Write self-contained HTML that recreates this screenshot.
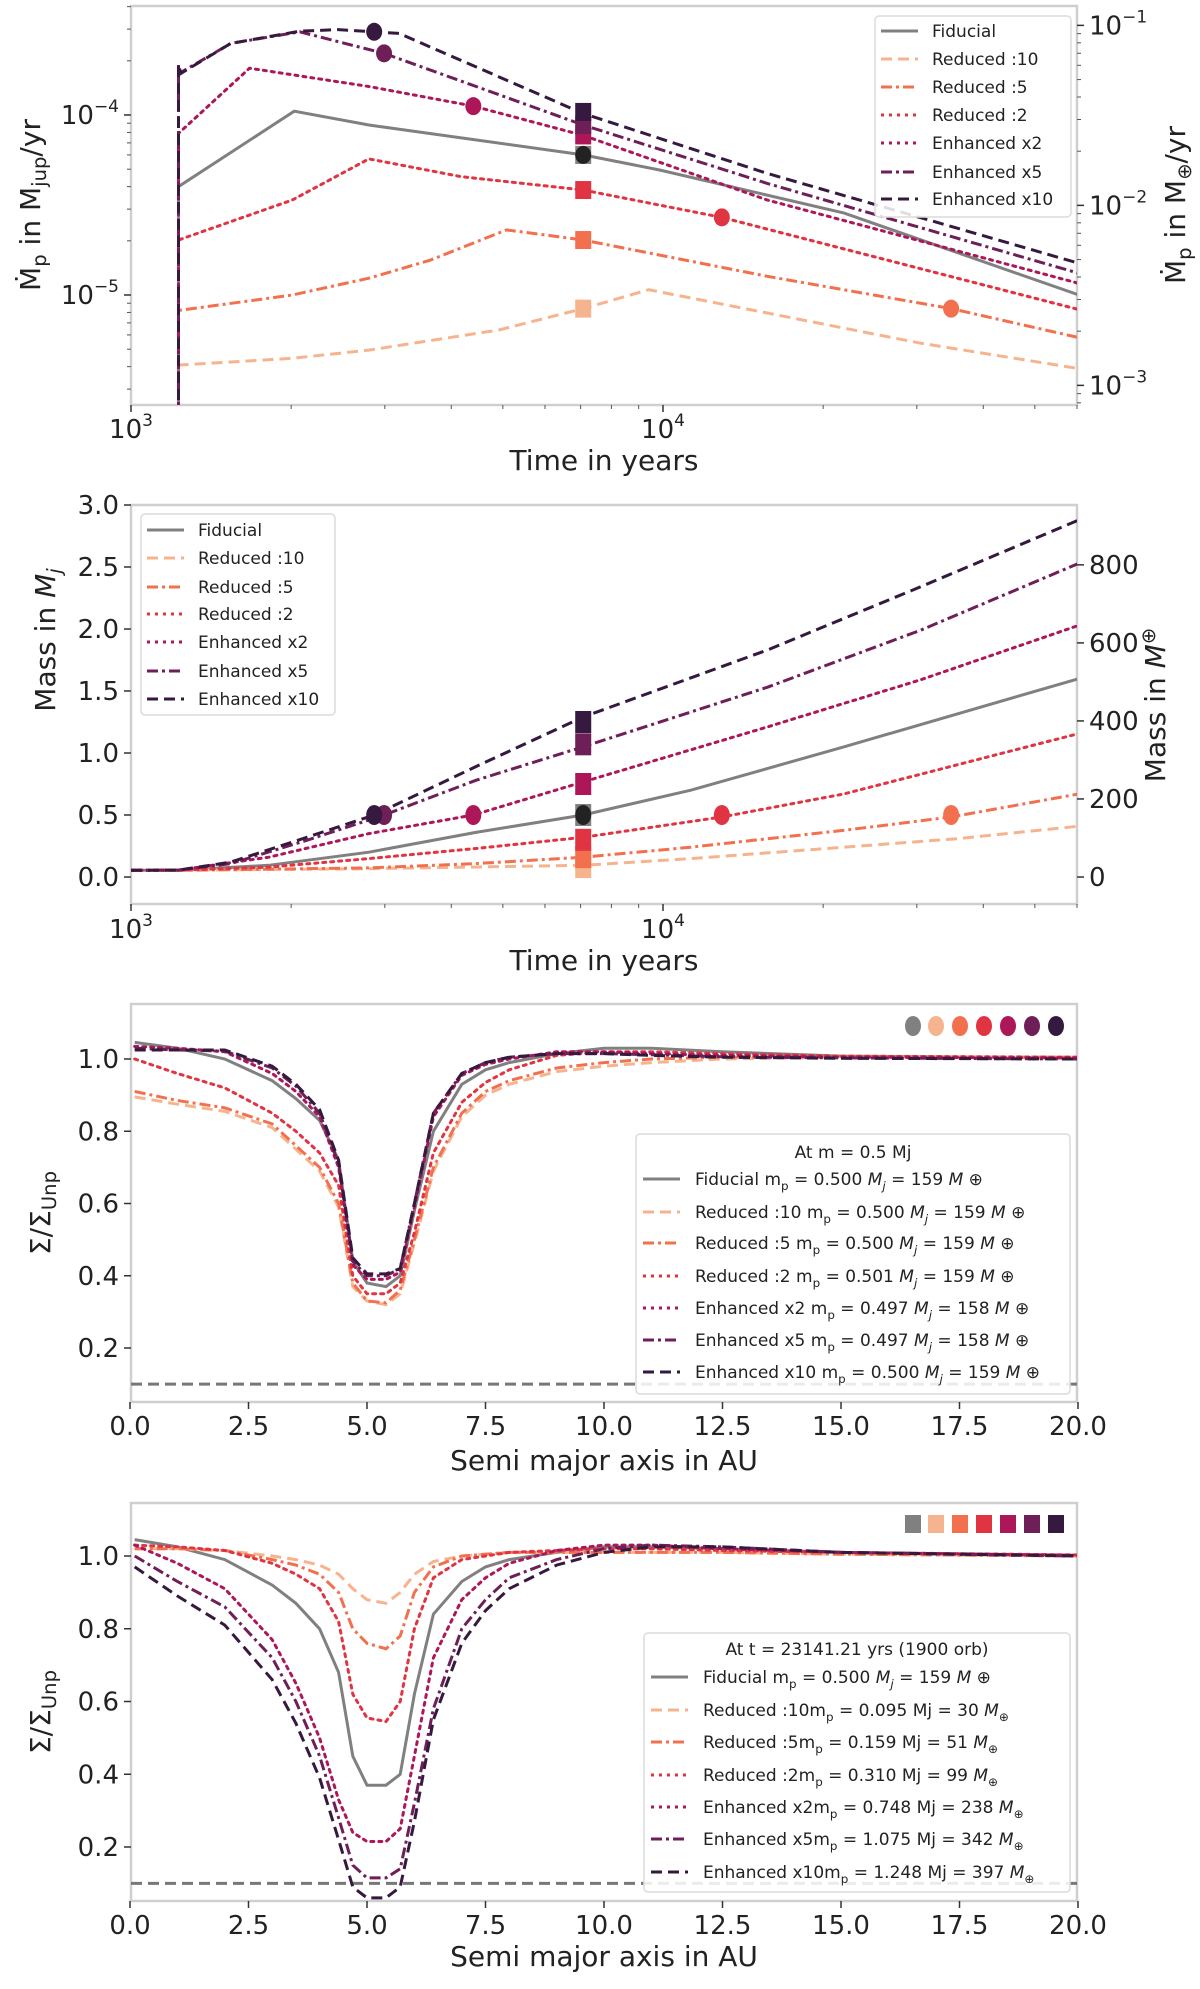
<!DOCTYPE html>
<html><head><meta charset="utf-8"><style>
html,body{margin:0;padding:0;background:#fff;}
svg text{font-family:"DejaVu Sans","Liberation Sans",sans-serif;fill:#222;}
</style></head><body>
<svg id="fig" xmlns="http://www.w3.org/2000/svg" width="1200" height="1984" viewBox="0 0 1200 1984"></svg>
<script>
// ---------- shared ----------
const seriesNames = ["Fiducial","Reduced :10","Reduced :5","Reduced :2","Enhanced x2","Enhanced x5","Enhanced x10"];
const seriesColors = ["#808080","#f6b48e","#f2704d","#e13443","#ad1759","#6f1f57","#35193e"];
const seriesDash = ["","11,6","11,4,3,4","3,5","3,5","11,4,3,4","11,6"];

// ---------- panel 1: accretion rate ----------
const p1Times = [
 [1228,2027,2800,7080,9860,21900,60500],
 [1228,2010,2800,4920,7080,9400,13700,30500,60500],
 [1228,2010,2800,3650,5080,7080,15700,34800,60500],
 [1228,2010,2800,4170,7080,12900,60500],
 [1228,1670,2800,4400,7080,15700,60500],
 [1228,1240,1540,2075,2990,7080,15700,60500],
 [1228,1240,1540,2075,2450,3190,7080,15700,60500]
];
const p1Rates = [
 [4.0e-5,1.05e-4,8.8e-5,6.0e-5,4.95e-5,2.85e-5,1.0e-5],
 [4.08e-6,4.45e-6,4.94e-6,6.4e-6,8.4e-6,1.07e-5,8.6e-6,5.4e-6,3.9e-6],
 [8.2e-6,1.0e-5,1.24e-5,1.56e-5,2.3e-5,2.02e-5,1.27e-5,8.4e-6,5.8e-6],
 [2.02e-5,3.37e-5,5.7e-5,4.55e-5,3.83e-5,2.7e-5,8.3e-6],
 [7.9e-5,1.82e-4,1.44e-4,1.12e-4,7.7e-5,3.37e-5,1.16e-5],
 [1.9e-4,1.72e-4,2.5e-4,2.9e-4,2.2e-4,8.8e-5,4.17e-5,1.32e-5],
 [1.9e-4,1.7e-4,2.5e-4,2.92e-4,2.98e-4,2.84e-4,1.02e-4,4.74e-5,1.5e-5]
];
const p1CircleT = [7080,null,34800,12900,4400,2990,2865];
const p1CircleV = [6.0e-5,null,8.4e-6,2.7e-5,1.12e-4,2.2e-4,2.9e-4];
const p1SquareT = 7080;
const p1SquareV = [6.0e-5,8.4e-6,2.02e-5,3.83e-5,7.7e-5,8.8e-5,1.04e-4];
const p1YTicks = [-5,-4];
const p1RightTicks = [-3,-2,-1];
const timeTicks = [3,4];

// ---------- panel 2: mass ----------
const p2Times = [
 [1000,1228,1816,2800,4450,7080,11280,21900,60500],
 [1000,1228,2800,7080,11280,21900,35900,60500],
 [1000,1228,2800,4450,7080,11280,21900,34800,60500],
 [1000,1228,1816,2800,4450,7080,12900,21900,60500],
 [1000,1228,1816,2800,4400,7080,15700,30500,60500],
 [1000,1228,1540,2140,2990,4450,7080,15700,30500,60500],
 [1000,1228,1540,2140,2865,4450,7080,15700,30500,60500]
];
const p2Mass = [
 [0.054,0.054,0.094,0.20,0.36,0.50,0.70,1.05,1.60],
 [0.054,0.054,0.067,0.094,0.148,0.24,0.31,0.41],
 [0.054,0.054,0.073,0.108,0.16,0.24,0.377,0.484,0.67],
 [0.054,0.054,0.08,0.148,0.23,0.32,0.484,0.67,1.157],
 [0.054,0.056,0.16,0.35,0.50,0.767,1.21,1.59,2.03],
 [0.054,0.056,0.108,0.296,0.50,0.78,1.05,1.53,1.99,2.53],
 [0.054,0.056,0.12,0.32,0.50,0.89,1.29,1.83,2.34,2.88]
];
const p2CircleT = [7080,null,34800,12900,4400,2990,2865];
const p2CircleV = [0.5,null,0.5,0.5,0.5,0.5,0.5];
const p2SquareV = [0.5,0.08,0.16,0.30,0.75,1.07,1.25];
const p2YTicks = [0,0.5,1.0,1.5,2.0,2.5,3.0];
const p2YTickLabels = ["0.0","0.5","1.0","1.5","2.0","2.5","3.0"];
const p2RightTicks = [0,200,400,600,800];

// ---------- panels 3/4: surface density ----------
const radii = [0.1,1,2,3,3.5,4,4.4,4.7,5.0,5.4,5.7,6.0,6.4,7,7.5,8,9,10,11,12.5,15,20];
const p3Sigma = [
 [1.046,1.03,1.0,0.94,0.89,0.83,0.72,0.44,0.38,0.37,0.40,0.58,0.80,0.93,0.97,0.99,1.015,1.03,1.03,1.02,1.008,1.003],
 [0.895,0.875,0.855,0.81,0.75,0.69,0.59,0.37,0.33,0.32,0.35,0.49,0.69,0.84,0.90,0.93,0.965,0.98,0.99,1.0,1.005,1.005],
 [0.91,0.885,0.865,0.82,0.76,0.70,0.60,0.38,0.33,0.325,0.36,0.50,0.70,0.85,0.91,0.94,0.975,0.99,1.0,1.005,1.006,1.005],
 [1.0,0.96,0.92,0.85,0.80,0.74,0.65,0.40,0.35,0.35,0.38,0.52,0.74,0.88,0.935,0.97,1.01,1.02,1.02,1.015,1.008,1.005],
 [1.035,1.03,1.02,0.96,0.91,0.84,0.70,0.43,0.39,0.39,0.41,0.59,0.84,0.955,0.985,1.0,1.02,1.02,1.015,1.01,1.005,1.003],
 [1.03,1.025,1.022,0.975,0.925,0.85,0.71,0.44,0.40,0.40,0.42,0.60,0.85,0.96,0.99,1.005,1.015,1.015,1.012,1.006,1.003,1.0],
 [1.025,1.025,1.025,0.98,0.93,0.86,0.72,0.45,0.405,0.405,0.42,0.60,0.85,0.96,0.99,1.005,1.015,1.015,1.01,1.005,1.002,1.0]
];
const p4Sigma = [
 [1.045,1.025,0.99,0.92,0.87,0.80,0.68,0.45,0.37,0.37,0.40,0.62,0.84,0.93,0.97,0.99,1.01,1.025,1.025,1.02,1.01,1.0],
 [1.02,1.02,1.015,1.0,0.99,0.975,0.95,0.91,0.88,0.87,0.90,0.95,0.985,1.0,1.005,1.01,1.01,1.01,1.01,1.01,1.005,1.0],
 [1.02,1.02,1.015,0.99,0.975,0.95,0.90,0.80,0.76,0.745,0.78,0.90,0.97,1.0,1.005,1.01,1.01,1.01,1.01,1.01,1.005,1.0],
 [1.03,1.025,1.015,0.98,0.95,0.91,0.82,0.62,0.555,0.545,0.60,0.80,0.94,0.99,1.0,1.01,1.015,1.02,1.02,1.015,1.01,1.003],
 [1.03,0.98,0.91,0.77,0.65,0.50,0.33,0.24,0.215,0.215,0.25,0.45,0.72,0.88,0.94,0.98,1.015,1.03,1.03,1.02,1.01,1.002],
 [1.0,0.93,0.86,0.72,0.60,0.45,0.28,0.15,0.115,0.115,0.14,0.32,0.58,0.80,0.88,0.94,0.99,1.02,1.03,1.025,1.01,1.0],
 [0.97,0.89,0.81,0.66,0.54,0.39,0.22,0.09,0.06,0.06,0.09,0.27,0.55,0.76,0.85,0.91,0.975,1.01,1.025,1.025,1.01,1.0]
];
const sigmaTicks = [0.2,0.4,0.6,0.8,1.0];
const sigmaTickLabels = ["0.2","0.4","0.6","0.8","1.0"];
const aTicks = [0,2.5,5,7.5,10,12.5,15,17.5,20];
const aTickLabels = ["0.0","2.5","5.0","7.5","10.0","12.5","15.0","17.5","20.0"];
const thresholdLevel = 0.1;
const p3Legend = ["Fiducial m<sub>p</sub> = 0.500 <i>M<sub>j</sub></i> = 159 <i>M</i> ⊕",
 "Reduced :10 m<sub>p</sub> = 0.500 <i>M<sub>j</sub></i> = 159 <i>M</i> ⊕",
 "Reduced :5 m<sub>p</sub> = 0.500 <i>M<sub>j</sub></i> = 159 <i>M</i> ⊕",
 "Reduced :2 m<sub>p</sub> = 0.501 <i>M<sub>j</sub></i> = 159 <i>M</i> ⊕",
 "Enhanced x2 m<sub>p</sub> = 0.497 <i>M<sub>j</sub></i> = 158 <i>M</i> ⊕",
 "Enhanced x5 m<sub>p</sub> = 0.497 <i>M<sub>j</sub></i> = 158 <i>M</i> ⊕",
 "Enhanced x10 m<sub>p</sub> = 0.500 <i>M<sub>j</sub></i> = 159 <i>M</i> ⊕"];
const p4Legend = ["Fiducial m<sub>p</sub> = 0.500 <i>M<sub>j</sub></i> = 159 <i>M</i> ⊕",
 "Reduced :10m<sub>p</sub> = 0.095 Mj = 30 <i>M</i><sub>⊕</sub>",
 "Reduced :5m<sub>p</sub> = 0.159 Mj = 51 <i>M</i><sub>⊕</sub>",
 "Reduced :2m<sub>p</sub> = 0.310 Mj = 99 <i>M</i><sub>⊕</sub>",
 "Enhanced x2m<sub>p</sub> = 0.748 Mj = 238 <i>M</i><sub>⊕</sub>",
 "Enhanced x5m<sub>p</sub> = 1.075 Mj = 342 <i>M</i><sub>⊕</sub>",
 "Enhanced x10m<sub>p</sub> = 1.248 Mj = 397 <i>M</i><sub>⊕</sub>"];

// ---------- drawing ----------
const NS="http://www.w3.org/2000/svg";
const svg=document.getElementById('fig');
function mk(tag,attrs,parent){const e=document.createElementNS(NS,tag);for(const k in attrs)e.setAttribute(k,attrs[k]);(parent||svg).appendChild(e);return e;}
function txt(x,y,html,size,anchor,parent,extra){const t=mk('text',Object.assign({x:x,y:y,'font-size':size,'text-anchor':anchor||'start'},extra||{}),parent);t.innerHTML=html;return t;}
const L=131,R=1077;
const logX=t=>L+532*(Math.log10(t)-3);
const linX=a=>130+47.4*a;

function frame(top,bottom,id){
  const g=mk('g',{});
  
  
  const r=mk('rect',{x:L,y:top,width:R-L,height:bottom-top,fill:'none',stroke:'#cfcfcf','stroke-width':2.5},g);
  
  
  const cp=mk('clipPath',{id:'clip-'+id},g);
  mk('rect',{x:L,y:top,width:R-L,height:bottom-top},cp);
  return g;
}
function sub(s){return s.replace(/<sub>/g,'<tspan font-size="0.7em" dy="5">').replace(/<\/sub>/g,'</tspan><tspan dy="-5"> </tspan>').replace(/<i>/g,'<tspan font-style="italic">').replace(/<\/i>/g,'</tspan>');}

function lineSeries(g,xs,ys,i,clipId,fx,fy,name){
  const d=xs.map((x,k)=>(k?'L':'M')+fx(x).toFixed(1)+','+fy(ys[k]).toFixed(1)).join(' ');
  const p=mk('path',{d:d,fill:'none',stroke:seriesColors[i],'stroke-width':3,'stroke-dasharray':seriesDash[i],'stroke-linecap':seriesDash[i]==='3,5'?'round':'butt','clip-path':'url(#clip-'+clipId+')'},g);
  
  
  return p;
}
function legendBox(g,x,y,w,h,ys,labels,hx,tx,fs,title,titleY){
  const lg=mk('g',{},g);
  
  
  mk('rect',{x:x,y:y,width:w,height:h,rx:4,fill:'#fff','fill-opacity':0.85,stroke:'#dcdcdc','stroke-width':1.5},lg);
  if(title){const tt=txt(x+w/2,titleY,title,fs,'middle',lg);}
  labels.forEach((lab,i)=>{
    const e=mk('g',{},lg);
    
    
    mk('line',{x1:hx,x2:hx+37,y1:ys[i],y2:ys[i],stroke:seriesColors[i],'stroke-width':3,'stroke-dasharray':seriesDash[i]},e);
    txt(tx,ys[i]+6,sub(lab),fs,'start',e);
  });
}
function logXAxis(g,bottom,labY,xlabY){
  timeTicks.forEach(p=>{const x=logX(Math.pow(10,p));mk('line',{x1:x,x2:x,y1:bottom,y2:bottom+7,stroke:'#333','stroke-width':1.5},g);
    const t=txt(x,labY,'10<tspan font-size="17" dy="-12">'+p+'</tspan>',26,'middle',g);});
  for(let d=3;d<=4;d++)for(let m=2;m<=9;m++){const v=m*Math.pow(10,d);if(logX(v)>R)break;const x=logX(v);mk('line',{x1:x,x2:x,y1:bottom,y2:bottom+4,stroke:'#555','stroke-width':1},g);}
  const xl=txt(604,xlabY,'Time in years',28,'middle',g);
  
  
}

// Panel 1
(function(){
  const top=6,bottom=405;
  const fy=v=>115-180*(Math.log10(v)+4);
  const g=frame(top,bottom,'p1');
  p1YTicks.forEach(p=>{const y=fy(Math.pow(10,p));mk('line',{x1:L-7,x2:L,y1:y,y2:y,stroke:'#333','stroke-width':1.5},g);
    const t=txt(L-12,y+9,'10<tspan font-size="17" dy="-12">−'+(-p)+'</tspan>',26,'end',g);});
  for(let d=-6;d<=-4;d++)for(let m=2;m<=9;m++){const y=fy(m*Math.pow(10,d));if(y<top||y>bottom)continue;mk('line',{x1:L-4,x2:L,y1:y,y2:y,stroke:'#555','stroke-width':1},g);}
  const fr=v=>fy(v/317.8);
  p1RightTicks.forEach(p=>{const y=fr(Math.pow(10,p));mk('line',{x1:R,x2:R+7,y1:y,y2:y,stroke:'#333','stroke-width':1.5},g);
    const t=txt(R+12,y+9,'10<tspan font-size="17" dy="-12">−'+(-p)+'</tspan>',26,'start',g);});
  for(let d=-4;d<=-1;d++)for(let m=2;m<=9;m++){const y=fr(m*Math.pow(10,d));if(y<top||y>bottom)continue;mk('line',{x1:R,x2:R+4,y1:y,y2:y,stroke:'#555','stroke-width':1},g);}
  logXAxis(g,bottom,438,470);
  const yl=txt(0,0,'Ṁ<tspan font-size="0.7em" dy="6">p</tspan><tspan dy="-6"> in M</tspan><tspan font-size="0.7em" dy="6">jup</tspan><tspan dy="-6">/yr</tspan>',28,'middle',g,{transform:'translate(40,205) rotate(-90)'});
  
  
  const yr=txt(0,0,'Ṁ<tspan font-size="0.7em" dy="6">p</tspan><tspan dy="-6"> in M</tspan><tspan font-size="0.7em" dy="6">⊕</tspan><tspan dy="-6">/yr</tspan>',28,'middle',g,{transform:'translate(1185,205) rotate(-90)'});
  
  
  for(let i=0;i<7;i++){
    const ts=[p1Times[i][0]].concat(p1Times[i]);const vs=[1e-7].concat(p1Rates[i]);
    lineSeries(g,ts,vs,i,'p1',logX,fy,'rate-line-'+i);
  }
  for(let i=0;i<7;i++){const s=mk('rect',{x:logX(p1SquareT)-8,y:fy(p1SquareV[i])-9,width:16,height:18,fill:seriesColors[i]},g);
    }
  for(let i=0;i<7;i++){if(p1CircleT[i]===null)continue;const c=mk('ellipse',{cx:logX(p1CircleT[i]),cy:fy(p1CircleV[i]),rx:8,ry:9,fill:i===0?'#222':seriesColors[i]},g);
    }
  legendBox(g,875,16,196,201,[31,59,87,115,143,172,199],seriesNames,881,932,17);
})();

// Panel 2
(function(){
  const top=505,bottom=904;
  const fy=m=>877-124*m;
  const g=frame(top,bottom,'p2');
  p2YTicks.forEach((v,k)=>{const y=fy(v);mk('line',{x1:L-7,x2:L,y1:y,y2:y,stroke:'#333','stroke-width':1.5},g);
    const t=txt(L-12,y+9,p2YTickLabels[k],26,'end',g);});
  p2RightTicks.forEach(v=>{const y=fy(v/317.8);mk('line',{x1:R,x2:R+7,y1:y,y2:y,stroke:'#333','stroke-width':1.5},g);
    const t=txt(R+12,y+9,String(v),26,'start',g);});
  logXAxis(g,bottom,938,970);
  const yl=txt(0,0,'Mass in <tspan font-style="italic">M<tspan font-size="0.7em" dy="6">j</tspan></tspan>',28,'middle',g,{transform:'translate(55,640) rotate(-90)'});
  
  const yr=txt(0,0,'Mass in <tspan font-style="italic">M</tspan><tspan font-size="0.7em" dy="-10">⊕</tspan>',28,'middle',g,{transform:'translate(1165,705) rotate(-90)'});
  
  for(let i=0;i<7;i++)lineSeries(g,p2Times[i],p2Mass[i],i,'p2',logX,fy,'mass-line-'+i);
  for(let i=0;i<7;i++){const s=mk('rect',{x:logX(p1SquareT)-8,y:fy(p2SquareV[i])-11,width:16,height:22,fill:seriesColors[i]},g);
    }
  for(let i=0;i<7;i++){if(p2CircleT[i]===null)continue;const c=mk('ellipse',{cx:logX(p2CircleT[i]),cy:fy(p2CircleV[i]),rx:8,ry:10,fill:i===0?'#222':seriesColors[i]},g);
    }
  legendBox(g,141,514,194,201,[530,558,587,614,642,671,699],seriesNames,147,198,17);
})();

// Panels 3 & 4
function profilePanel(id,top,bottom,y1,scale,data,legendLabels,lx,ly,lw,lh,title,titleY,entryYs,markerShape,markerY,tickY,xlabY){
  const fy=v=>y1+(1-v)*scale;
  const g=frame(top,bottom,id);
  sigmaTicks.forEach((v,k)=>{const y=fy(v);mk('line',{x1:L-7,x2:L,y1:y,y2:y,stroke:'#333','stroke-width':1.5},g);
    const t=txt(L-12,y+9,sigmaTickLabels[k],26,'end',g);});
  aTicks.forEach((v,k)=>{const x=linX(v);mk('line',{x1:x,x2:x,y1:bottom,y2:bottom+7,stroke:'#333','stroke-width':1.5},g);
    const t=txt(x,tickY,aTickLabels[k],26,'middle',g);});
  const xl=txt(604,xlabY,'Semi major axis in AU',28,'middle',g);
  
  const yl=txt(0,0,'Σ/Σ<tspan font-size="0.7em" dy="6">Unp</tspan>',28,'middle',g,{transform:'translate(50,'+((top+bottom)/2+10)+') rotate(-90)'});
  
  const th=mk('line',{x1:L,x2:R,y1:fy(thresholdLevel),y2:fy(thresholdLevel),stroke:'#777','stroke-width':3,'stroke-dasharray':'11,6'},g);
  
  for(let i=0;i<7;i++)lineSeries(g,radii,data[i],i,id,linX,fy,'profile-line-'+i);
  const mxs=[913,936,960,984,1008,1032,1056];
  for(let i=0;i<7;i++){
    const m=markerShape==='circle'?mk('ellipse',{cx:mxs[i],cy:markerY,rx:8,ry:10,fill:seriesColors[i]},g):mk('rect',{x:mxs[i]-8,y:markerY-9,width:16,height:18,fill:seriesColors[i]},g);
    
  }
  legendBox(g,lx,ly,lw,lh,entryYs,legendLabels,lx+7,lx+59,17,title,titleY);
}
profilePanel('p3',1004,1402,1059,361.25,p3Sigma,p3Legend,636,1134,434,260,'At m = 0.5 Mj',1158,[1179,1212,1243,1276,1308,1340,1372],'circle',1026,1435,1470);
profilePanel('p4',1503,1901,1556,363.75,p4Sigma,p4Legend,644,1633,426,259,'At t = 23141.21 yrs (1900 orb)',1655,[1677,1710,1742,1775,1807,1839,1872],'square',1524,1934,1966);
</script>
</body></html>
